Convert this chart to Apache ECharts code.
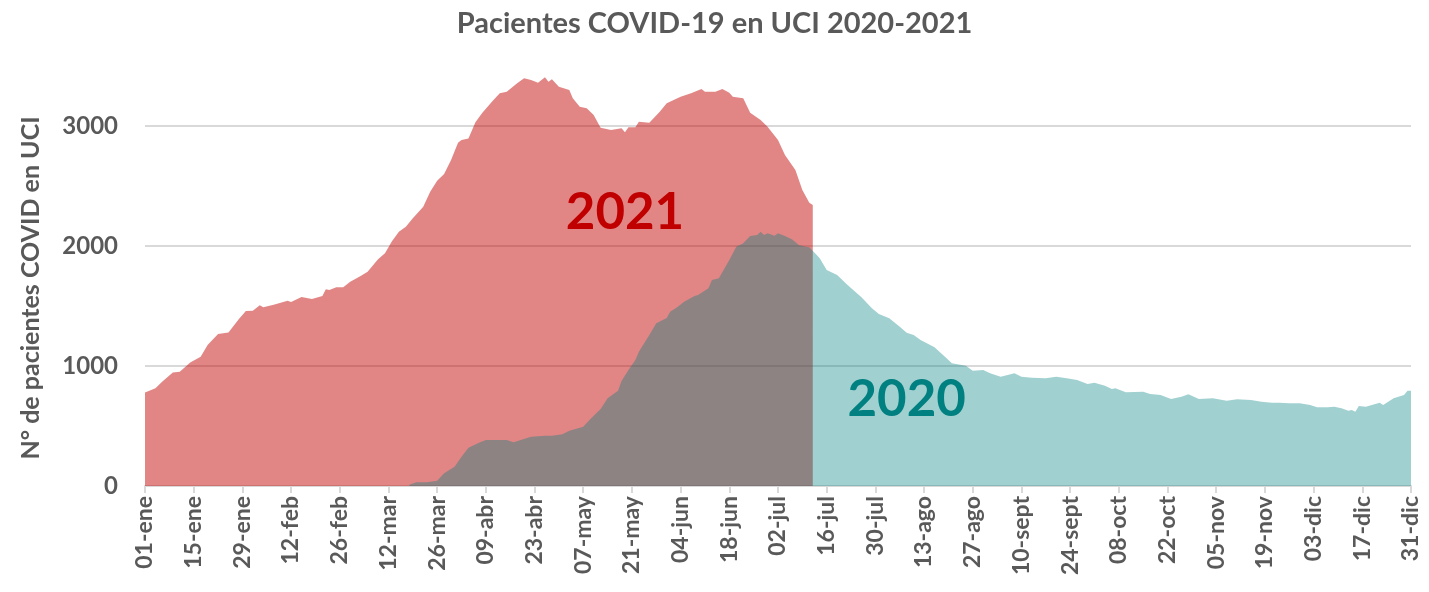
<!DOCTYPE html>
<html>
<head>
<meta charset="utf-8">
<script src="https://cdn.jsdelivr.net/npm/echarts@6/dist/echarts.min.js"></script>
<style>
  html, body { margin: 0; padding: 0; background: #fff; }
  #chart { width: 1429px; height: 592px; }
</style>
</head>
<body>
<div id="chart"></div>
<script>
// tick labels every 14 days (day index 0 = 01-ene)
const tickLabels = ['01-ene', '15-ene', '29-ene', '12-feb', '26-feb', '12-mar', '26-mar', '09-abr', '23-abr',
  '07-may', '21-may', '04-jun', '18-jun', '02-jul', '16-jul', '30-jul', '13-ago', '27-ago', '10-sept',
  '24-sept', '08-oct', '22-oct', '05-nov', '19-nov', '03-dic', '17-dic', '31-dic'];

// 2021: day of year (0-based) and ICU patients
const days2021 = [0, 3, 5, 8, 10, 13, 16, 18, 21, 24, 27, 29, 31, 33, 34, 37, 41, 42, 45, 48, 51, 52, 53, 55, 57,
  59, 62, 64, 67, 69, 71, 73, 75, 77, 80, 82, 84, 86, 88, 90, 91, 93, 95, 97, 100, 102, 104, 107, 109, 111,
  113, 115, 116, 117, 119, 122, 123, 125, 127, 129, 131, 134, 137, 138, 139, 141, 142, 145, 148, 150, 152,
  154, 157, 160, 161, 164, 166, 168, 169, 172, 174, 177, 179, 182, 184, 187, 189, 191, 192];
const vals2021 = [780, 814, 870, 945, 953, 1030, 1078, 1175, 1267, 1280, 1392, 1458, 1461, 1506, 1489, 1511,
  1544, 1533, 1575, 1558, 1583, 1639, 1633, 1656, 1656, 1703, 1750, 1786, 1889, 1939, 2040, 2119, 2160, 2231,
  2328, 2453, 2544, 2600, 2717, 2860, 2883, 2895, 3032, 3110, 3211, 3272, 3286, 3356, 3397, 3383, 3361, 3406,
  3369, 3389, 3328, 3300, 3231, 3161, 3147, 3092, 2986, 2967, 2981, 2947, 2989, 2989, 3036, 3028, 3119, 3189,
  3217, 3244, 3272, 3308, 3286, 3286, 3308, 3278, 3244, 3231, 3111, 3050, 2994, 2883, 2758, 2633, 2467, 2361,
  2342];

// 2020
const days2020 = [76, 78, 81, 84, 86, 89, 91, 93, 96, 98, 101, 104, 106, 108, 111, 115, 117, 120, 122, 126, 128,
  131, 133, 136, 137, 139, 141, 142, 145, 147, 150, 151, 153, 155, 158, 159, 162, 163, 165, 168, 170, 172, 174,
  176, 177, 178, 179, 181, 182, 184, 186, 188, 190, 191, 193, 194, 196, 199, 202, 206, 209, 211, 214, 217, 219,
  221, 223, 227, 230, 232, 236, 238, 241, 243, 246, 250, 252, 255, 259, 262, 265, 268, 271, 273, 276, 278, 279,
  282, 287, 289, 292, 295, 298, 300, 303, 307, 311, 314, 318, 321, 324, 326, 329, 332, 335, 337, 340, 342, 344,
  346, 347, 348, 349, 351, 355, 356, 359, 362, 363, 364];
const vals2020 = [10, 31, 31, 44, 106, 161, 244, 319, 361, 383, 383, 383, 364, 383, 411, 419, 419, 431, 461, 494,
  556, 642, 731, 794, 875, 967, 1050, 1119, 1258, 1356, 1400, 1453, 1489, 1536, 1583, 1592, 1647, 1717, 1731,
  1883, 1994, 2022, 2083, 2092, 2119, 2092, 2106, 2086, 2106, 2083, 2056, 2008, 1994, 1989, 1930, 1897, 1800,
  1758, 1675, 1572, 1481, 1433, 1397, 1328, 1278, 1258, 1217, 1156, 1078, 1022, 1003, 961, 967, 939, 911, 939,
  911, 903, 897, 911, 897, 883, 850, 861, 835, 808, 814, 781, 786, 767, 758, 725, 744, 764, 725, 731, 711, 722,
  717, 703, 694, 694, 689, 689, 675, 656, 656, 661, 647, 628, 633, 619, 667, 661, 694, 675, 731, 758, 794, 794];

const grey = '#595959';
const font = 'Lato';

const chart = echarts.init(document.getElementById('chart'));
chart.setOption({
  animation: false,
  title: {
    text: 'Pacientes COVID-19 en UCI 2020-2021',
    left: 'center',
    top: 4,
    textStyle: { color: grey, fontFamily: font, fontWeight: 'bold', fontSize: 29 }
  },
  grid: { left: 145, right: 18, top: 66, bottom: 106, containLabel: false, outerBoundsMode: 'none' },
  xAxis: {
    type: 'value',
    min: 0,
    max: 364,
    interval: 14,
    splitLine: { show: false },
    axisLine: { lineStyle: { color: '#d9d9d9', width: 2 } },
    axisTick: { show: true, length: 7, lineStyle: { color: '#d9d9d9', width: 2 } },
    axisLabel: {
      rotate: 90,
      margin: 10,
      color: grey,
      fontFamily: font,
      fontWeight: 'bold',
      fontSize: 23,
      formatter: function (v) { return tickLabels[Math.round(v / 14)]; }
    }
  },
  yAxis: {
    type: 'value',
    min: 0,
    max: 3500,
    interval: 1000,
    name: 'N° de pacientes COVID en UCI',
    nameLocation: 'middle',
    nameGap: 102,
    nameTextStyle: { color: grey, fontFamily: font, fontWeight: 'bold', fontSize: 25, padding: [0, 24, 0, 0] },
    axisLine: { show: false },
    axisTick: { show: false },
    axisLabel: {
      showMaxLabel: false,
      margin: 27,
      color: grey,
      fontFamily: font,
      fontWeight: 'bold',
      fontSize: 24,
      formatter: function (v) { return String(v); }
    },
    splitLine: {
      lineStyle: { color: ['#d9d9d9', '#d9d9d9', '#d9d9d9', '#d9d9d9', 'rgba(0,0,0,0)'], width: 2 }
    }
  },
  series: [
    {
      name: '2021',
      type: 'line',
      data: days2021.map((d, i) => [d, vals2021[i]]),
      symbol: 'none',
      lineStyle: { width: 0 },
      areaStyle: { color: 'rgba(192,0,0,0.48)', opacity: 1 },
      markPoint: {
        symbolSize: 0,
        label: { show: true, formatter: '2021', color: '#C00000', fontFamily: font, fontWeight: 'bold', fontSize: 51 },
        data: [{ coord: [138, 2275] }]
      }
    },
    {
      name: '2020',
      type: 'line',
      data: days2020.map((d, i) => [d, vals2020[i]]),
      symbol: 'none',
      lineStyle: { width: 0 },
      areaStyle: { color: 'rgba(0,128,128,0.37)', opacity: 1 },
      markPoint: {
        symbolSize: 0,
        label: { show: true, formatter: '2020', color: '#008080', fontFamily: font, fontWeight: 'bold', fontSize: 51 },
        data: [{ coord: [219, 717] }]
      }
    }
  ]
});
</script>
</body>
</html>
